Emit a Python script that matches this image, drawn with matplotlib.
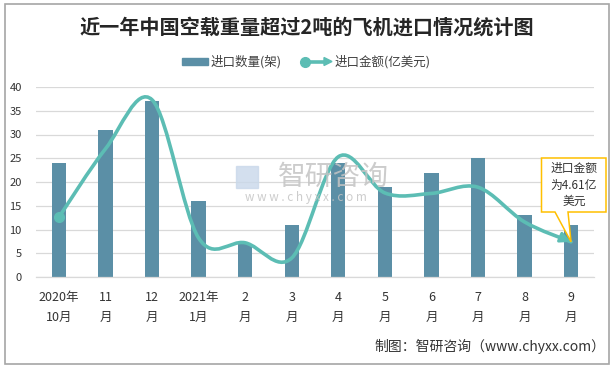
import numpy as np
import matplotlib
matplotlib.use("Agg")
import matplotlib.pyplot as plt
from matplotlib.path import Path
from matplotlib.patches import PathPatch, Rectangle, Polygon
from matplotlib.lines import Line2D

plt.rcParams['font.family'] = ['Noto Sans CJK SC', 'DejaVu Sans']

# ---------------- data ----------------
categories = ["2020年\n10月", "11\n月", "12\n月", "2021年\n1月", "2\n月", "3\n月",
              "4\n月", "5\n月", "6\n月", "7\n月", "8\n月", "9\n月"]
quantity = [24, 31, 37, 16, 7, 11, 24, 19, 22, 25, 13, 11]          # 进口数量(架)
amount_plot = [12.6, 27, 37.3, 8.2, 7.2, 4.0, 25.3, 17.7, 17.6, 18.9, 11.6, 7.4]  # 进口金额 (as drawn)
yticks = [0, 5, 10, 15, 20, 25, 30, 35, 40]
title = "近一年中国空载重量超过2吨的飞机进口情况统计图"
legend_bar = "进口数量(架)"
legend_line = "进口金额(亿美元)"
callout = "进口金额\n为4.61亿\n美元"
footer = "制图：智研咨询（www.chyxx.com）"

BAR_C = "#5B8FA6"
LINE_C = "#5CBDB4"
GRID_C = "#D9D9D9"

W, H = 613, 370
fig = plt.figure(figsize=(W / 100, H / 100), dpi=100)
fig.patch.set_facecolor("white")

def fx(px):
    return px / W

def fy(py):
    return 1 - py / H

# outer border
fig.patches.append(Rectangle((fx(4.5), fy(364)), fx(609) - fx(4.5), fy(4) - fy(364),
                             transform=fig.transFigure, fill=False,
                             edgecolor="#A6A6A6", lw=1.2, zorder=0))

ax = fig.add_axes([fx(35.7), fy(277), fx(594.3) - fx(35.7), fy(87) - fy(277)])
x = np.arange(len(categories))
ax.bar(x, quantity, width=0.31, color=BAR_C, zorder=2)
ax.set_xlim(-0.5, len(categories) - 0.5)
ax.set_ylim(0, 40)
ax.set_yticks(yticks)
ax.set_yticklabels([str(v) for v in yticks], fontsize=8, color="#333333")
ax.set_xticks(x)
ax.set_xticklabels(categories, fontsize=9, color="#333333", linespacing=1.75)
ax.tick_params(axis="both", length=0)
ax.tick_params(axis="y", pad=10)
ax.tick_params(axis="x", pad=10)
ax.grid(axis="y", color=GRID_C, lw=0.9, zorder=0)
ax.set_axisbelow(True)
for s in ["top", "right", "left"]:
    ax.spines[s].set_visible(False)
ax.spines["bottom"].set_color(GRID_C)
ax.spines["bottom"].set_linewidth(0.9)

# smoothed line (Excel-style Catmull-Rom Bezier)
P = np.column_stack([x, amount_plot]).astype(float)
n = len(P)
verts = [tuple(P[0])]
codes = [Path.MOVETO]
last_c2 = None
for i in range(n - 1):
    p0 = P[i - 1] if i > 0 else P[i]
    p1 = P[i]
    p2 = P[i + 1]
    p3 = P[i + 2] if i + 2 < n else P[i + 1]
    c1 = p1 + (p2 - p0) / 6.0
    c2 = p2 - (p3 - p1) / 6.0
    verts += [tuple(c1), tuple(c2), tuple(p2)]
    codes += [Path.CURVE4, Path.CURVE4, Path.CURVE4]
    last_c2 = c2
path = Path(verts, codes)
ax.add_patch(PathPatch(path, facecolor="none", edgecolor=LINE_C, lw=2.6,
                       capstyle="round", joinstyle="round", zorder=3))
ax.plot([x[0]], [amount_plot[0]], marker="o", ms=7, color=LINE_C, zorder=4)
# arrow head at end
end = P[-1]
d = end - last_c2
start = end - d * 0.25
ax.annotate("", xy=tuple(end), xytext=tuple(start),
            arrowprops=dict(arrowstyle="-|>,head_length=0.6,head_width=0.3",
                            color=LINE_C, lw=2.2, shrinkA=0, shrinkB=0),
            zorder=4)

# title
fig.text(fx(307), fy(27), title, ha="center", va="center", fontsize=14.5,
         fontweight="bold", color="#262626")

# legend (manual)
fig.patches.append(Rectangle((fx(182), fy(65)), fx(208) - fx(182), fy(58) - fy(65),
                             transform=fig.transFigure, color=BAR_C))
fig.text(fx(211), fy(61.5), legend_bar, ha="left", va="center", fontsize=9, color="#404040")
fig.lines.append(Line2D([fx(305), fx(326)], [fy(61.5), fy(61.5)], transform=fig.transFigure,
                        color=LINE_C, lw=2.6))
fig.lines.append(Line2D([fx(305)], [fy(61.5)], transform=fig.transFigure, marker="o",
                        ms=7, color=LINE_C))
fig.patches.append(Polygon([(fx(324), fy(57.5)), (fx(332), fy(61.5)), (fx(324), fy(65.5))],
                           closed=True, transform=fig.transFigure, color=LINE_C))
fig.text(fx(335), fy(61.5), legend_line, ha="left", va="center", fontsize=9, color="#404040")

# watermark
fig.patches.append(Rectangle((fx(236), fy(188)), fx(258) - fx(236), fy(166) - fy(188),
                             transform=fig.transFigure, color="#C9D8EA", alpha=0.8, zorder=1))
fig.text(fx(333), fy(177), "智研咨询", ha="center", va="center", fontsize=20,
         color="#C4C4C4", alpha=0.85, zorder=1)
fig.text(fx(306), fy(198), "w w w . c h y x x . c o m", ha="center", va="center",
         fontsize=8.5, color="#C4C4C4", alpha=0.85, zorder=1)

# callout box with pointer to end point
fig.canvas.draw()
tip_disp = ax.transData.transform(tuple(end))
tip_fig = fig.transFigure.inverted().transform(tip_disp)
box = [(fx(541.5), fy(158)), (fx(606), fy(158)), (fx(606), fy(212)),
       (fx(568), fy(212)), tuple(tip_fig), (fx(555), fy(212)), (fx(541.5), fy(212))]
fig.patches.append(Polygon(box, closed=True, transform=fig.transFigure,
                           facecolor="white", edgecolor="#FFC000", lw=1.1, zorder=5))
fig.text(fx(574), fy(185), callout, ha="center", va="center", fontsize=8.5,
         color="#333333", linespacing=1.35, zorder=6)

# footer
fig.text(fx(605), fy(346), footer, ha="right", va="center", fontsize=10, color="#333333")

fig.savefig("out.png", dpi=100)
